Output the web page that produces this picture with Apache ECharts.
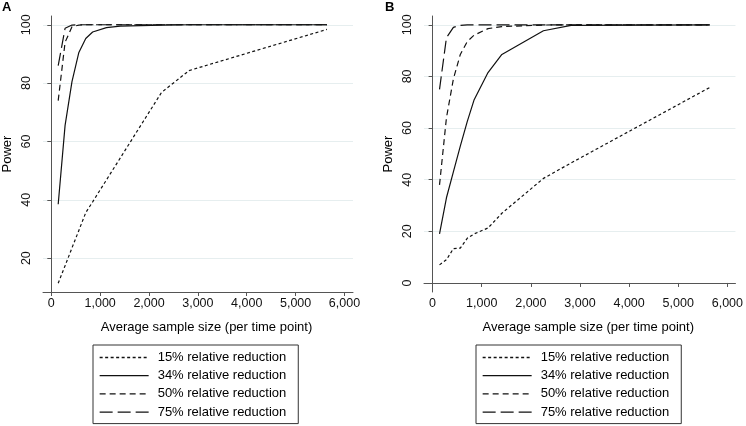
<!DOCTYPE html>
<html>
<head>
<meta charset="utf-8">
<script src="https://cdn.jsdelivr.net/npm/echarts@6/dist/echarts.min.js"></script>
<style>
html,body{margin:0;padding:0;background:#fff;}
#chart{width:746px;height:426px;}
</style>
</head>
<body>
<div id="chart"></div>
<script>
// Average sample size (per time point)
const sampleSize = [141, 282, 423, 564, 705, 846, 1128, 1410, 2256, 2820, 5640];
const seriesNames = ['15% relative reduction', '34% relative reduction', '50% relative reduction', '75% relative reduction'];
// Panel A power (%)
const powerA15 = [11.4, 17.4, 23.5, 29.5, 35.6, 39.3, 46.8, 54.3, 76.8, 84.3, 98.4];
const powerA34 = [38.5, 65.5, 80.5, 90.5, 95.3, 97.5, 99.0, 99.5, 99.9, 100, 100];
const powerA50 = [74, 94, 99.3, 99.9, 100, 100, 100, 100, 100, 100, 100];
const powerA75 = [86, 98.8, 99.9, 100, 100, 100, 100, 100, 100, 100, 100];
// Panel B power (%)
const powerB15 = [7, 9, 13.3, 13.5, 17.3, 19, 21.3, 27, 40.5, 46.5, 75.7];
const powerB34 = [19, 33, 43, 53, 62.5, 71, 81.5, 88.5, 97.7, 99.8, 100];
const powerB50 = [38, 64, 79, 88.5, 93.5, 96, 98.5, 99.3, 99.9, 100, 100];
const powerB75 = [75, 95, 99, 99.8, 100, 100, 100, 100, 100, 100, 100];
// Tick labels
const xTicks = [0, 1000, 2000, 3000, 4000, 5000, 6000];
const yTicksA = [20, 40, 60, 80, 100];
const yTicksB = [0, 20, 40, 60, 80, 100];
const panelLabels = ['A', 'B'];

const FONT = '"Liberation Sans", Arial, Helvetica, sans-serif';
const dashes = [[3, 2.5], 'solid', [6, 4], [13, 5]];
const LINE = '#111';
const AXIS = '#555';
const GRIDC = '#e6eeef';

function pairs(vals) { return sampleSize.map((x, i) => [x, vals[i]]); }

function mkX(idx, min, max) {
  return {
    type: 'value', gridIndex: idx, min: min, max: max,
    name: 'Average sample size (per time point)',
    nameLocation: 'middle', nameGap: 29,
    nameTextStyle: { fontFamily: FONT, fontSize: 13, color: '#000', padding: [0, 0, 0, 17] },
    axisLine: { show: true, lineStyle: { color: AXIS, width: 1 } },
    axisTick: { show: true, length: 4, lineStyle: { color: AXIS }, customValues: xTicks },
    axisLabel: { fontFamily: FONT, fontSize: 12.5, color: '#111', margin: 5, customValues: xTicks,
      formatter: v => v.toLocaleString('en-US') },
    splitLine: { show: false }
  };
}
function mkY(idx, min, max, ticks) {
  return {
    type: 'value', gridIndex: idx, min: min, max: max,
    name: 'Power', nameLocation: 'middle', nameGap: 29, nameMoveOverlap: false,
    nameTextStyle: { fontFamily: FONT, fontSize: 13, color: '#000' },
    axisLine: { show: true, lineStyle: { color: AXIS, width: 1 } },
    axisTick: { show: true, length: 4, lineStyle: { color: AXIS }, customValues: ticks },
    axisLabel: { fontFamily: FONT, fontSize: 12.5, color: '#111', rotate: 90, margin: 10, customValues: ticks },
    splitLine: { show: true, lineStyle: { color: GRIDC, width: 1 } }
  };
}
function mkSeries(idx, arrs) {
  return arrs.map((vals, k) => ({
    type: 'line', name: seriesNames[k], xAxisIndex: idx, yAxisIndex: idx,
    data: pairs(vals), symbol: 'none', showSymbol: false, smooth: false,
    lineStyle: { color: LINE, width: 1.2, type: dashes[k] },
    itemStyle: { color: LINE },
    emphasis: { disabled: true }, animation: false, z: 10 - k
  }));
}
function mkLegend(left) {
  return {
    left: left, top: 345, orient: 'vertical', data: seriesNames,
    itemWidth: 49, itemHeight: 14, itemGap: 5.2,
    padding: [6, 12, 5, 6],
    borderColor: '#333', borderWidth: 1, backgroundColor: '#fff',
    textStyle: { fontFamily: FONT, fontSize: 13, color: '#000', padding: [0, 0, 0, 4] },
    lineStyle: { width: 1.3, type: 'inherit' },
    itemStyle: { opacity: 0, borderWidth: 0 },
    selectedMode: false
  };
}

const chart = echarts.init(document.getElementById('chart'), null, { renderer: 'canvas' });
chart.setOption({
  animation: false,
  backgroundColor: '#fff',
  title: [
    { text: panelLabels[0], left: 2, top: 1, padding: 0, textStyle: { fontFamily: FONT, fontSize: 13, fontWeight: 'bold', color: '#000' } },
    { text: panelLabels[1], left: 385, top: 1, padding: 0, textStyle: { fontFamily: FONT, fontSize: 13, fontWeight: 'bold', color: '#000' } }
  ],
  grid: [
    { left: 41, top: 16, width: 312, height: 276 },
    { left: 424, top: 16, width: 312, height: 276 }
  ],
  xAxis: [mkX(0, -170, 6175), mkX(1, -175, 6165)],
  yAxis: [mkY(0, 8.4, 103, yTicksA), mkY(1, -3.5, 103.4, yTicksB)],
  legend: [mkLegend(93), mkLegend(476)],
  series: [].concat(
    mkSeries(0, [powerA15, powerA34, powerA50, powerA75]),
    mkSeries(1, [powerB15, powerB34, powerB50, powerB75])
  )
});
</script>
</body>
</html>
